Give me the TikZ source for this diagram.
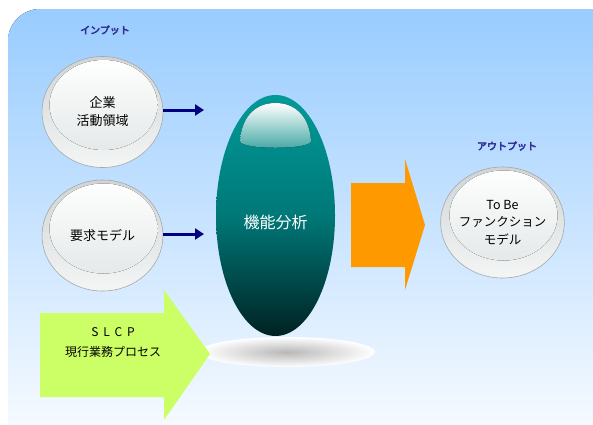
\documentclass[tikz,border=0pt]{standalone}
\usepackage{fontspec}
\newfontfamily\jp{Noto Sans CJK JP}
\newfontfamily\jpb{Noto Sans CJK JP}[FakeBold=5]
\usetikzlibrary{shapes.geometric,arrows.meta}
\definecolor{bgtop}{HTML}{99CCFF}
\definecolor{bgbot}{HTML}{FFFFFF}
\definecolor{ringtop}{HTML}{D0D4D4}
\definecolor{ringbot}{HTML}{F4F6F6}
\definecolor{ringline}{HTML}{A4A8A8}
\definecolor{innerbot}{HTML}{E0E5E5}
\definecolor{navyarr}{HTML}{000080}
\definecolor{labelblue}{HTML}{333399}
\definecolor{tealA}{HTML}{009A98}
\definecolor{tealB}{HTML}{007878}
\definecolor{tealC}{HTML}{002222}
\definecolor{hlbot}{HTML}{3FA6A2}
\definecolor{orangearr}{HTML}{FF9900}
\definecolor{greenarr}{HTML}{CCFF66}
\begin{document}
\begin{tikzpicture}[x=1pt,y=-1pt,
  ball/.style={ellipse, draw=ringline, line width=0.6pt,
    top color=ringtop, bottom color=ringbot,
    minimum width=121pt, minimum height=111pt, inner sep=0pt, align=center,
    font=\jp\fontsize{13}{18}\selectfont,
    path picture={\fill[top color=white, bottom color=innerbot]
      ([xshift=1pt,yshift=7pt]path picture bounding box.center)
      ellipse [x radius=54pt, y radius=45pt];}},
  navyarrow/.style={draw=navyarr, line width=3pt,
    -{Triangle[length=9pt,width=11pt]}},
  headlabel/.style={font=\jpb\fontsize{10}{11}\selectfont, text=labelblue},
]
\useasboundingbox (0,0) rectangle (593,424);
% background
\fill[top color=bgtop, bottom color=bgbot, rounded corners=32pt] (8,9) rectangle (640,470);

% labels
\node[headlabel] (inlabel) at (105,30) {インプット};
\node[headlabel] (outlabel) at (507,146) {アウトプット};

% input balls
\node[ball] (in1) at (102.5,112) {企業\\活動領域};
\node[ball] (in2) at (102.5,235.5) {要求モデル};
\coordinate (a1) at (204,110);
\coordinate (a2) at (204,234);
\draw[navyarrow] (in1.east |- a1) -- (a1);
\draw[navyarrow] (in2.east |- a2) -- (a2);

% shadow
\shade[inner color=black!28, outer color=white] (287,352) ellipse [x radius=88pt, y radius=15pt];

% green arrow
\fill[greenarr] (40,313) -- (164,313) -- (164,290) -- (210,354) -- (164,420) -- (164,397) -- (40,397) -- cycle;
\node[font=\jp\fontsize{12}{20}\selectfont, align=center] (slcp) at (113,343) {S\hspace{0.4em}L\hspace{0.4em}C\hspace{0.4em}P\\現行業務プロセス};

% main ellipse
\node[ellipse, minimum width=119pt, minimum height=241pt, inner sep=0pt,
  top color=tealA, bottom color=tealC, middle color=tealB] (main) at (275.5,215.5) {};
\fill[top color=white, bottom color=hlbot]
  (240,141) .. controls (242,114) and (258,103) .. (275.5,103)
  .. controls (293,103) and (309,114) .. (311,141)
  .. controls (311,150) and (240,150) .. (240,141);
\node[text=white, font=\jp\fontsize{16}{18}\selectfont] (mainlabel) at ([yshift=-7pt]main.center) {機能分析};

% orange arrow
\fill[orangearr] (351,183) -- (405,183) -- (405,159) -- (425,225) -- (405,290) -- (405,267) -- (351,267) -- cycle;

% output ball
\node[ball, font=\jp\fontsize{12.5}{17.5}\selectfont] (out) at (502.5,222.5) {To Be\\ファンクション\\モデル};
\end{tikzpicture}
\end{document}
